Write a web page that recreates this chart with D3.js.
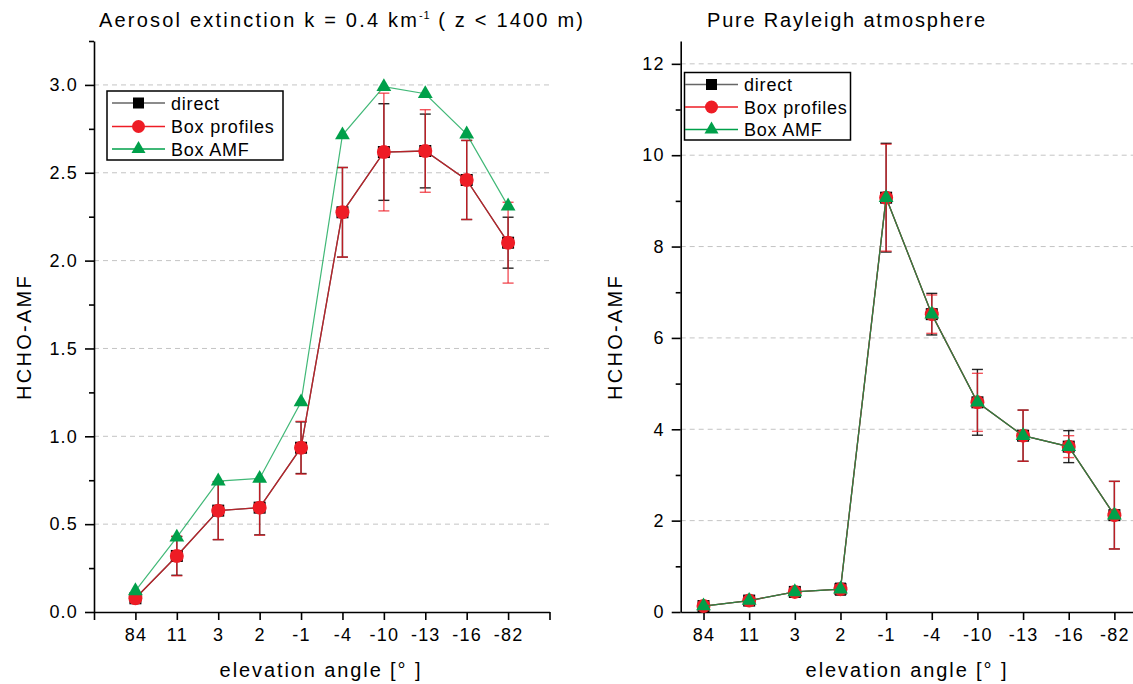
<!DOCTYPE html>
<html>
<head>
<meta charset="utf-8">
<script src="https://cdn.jsdelivr.net/npm/d3@7"></script>
<style>
  body { margin: 0; background: #fff; }
  svg { display: block; font-family: "Liberation Sans", Arial, Helvetica, sans-serif; }
</style>
</head>
<body>
<svg id="chart" width="1133" height="684"></svg>
<script>
// Elevation angles (x categories), shared by both panels
const categories = ["84", "11", "3", "2", "-1", "-4", "-10", "-13", "-16", "-82"];

// Left panel: aerosol extinction case
const aerosolDirect    = [0.078, 0.319, 0.577, 0.594, 0.935, 2.275, 2.618, 2.624, 2.459, 2.102];
const aerosolProfiles  = [0.078, 0.319, 0.577, 0.594, 0.935, 2.275, 2.618, 2.624, 2.459, 2.102];
const aerosolBoxAmf    = [0.12, 0.425, 0.745, 0.76, 1.195, 2.715, 2.99, 2.95, 2.72, 2.31];
const aerosolDirectErr   = [0.02, 0.11, 0.165, 0.155, 0.147, 0.255, 0.275, 0.21, 0.225, 0.145];
const aerosolProfilesErr = [0.02, 0.113, 0.165, 0.157, 0.15, 0.255, 0.335, 0.235, 0.225, 0.23];
const aerosolYTicks = [0, 0.5, 1.0, 1.5, 2.0, 2.5, 3.0];
const aerosolYMinor = [0.25, 0.75, 1.25, 1.75, 2.25, 2.75, 3.25];

// Right panel: pure Rayleigh atmosphere
const rayleighDirect    = [0.13, 0.25, 0.44, 0.50, 9.07, 6.52, 4.59, 3.86, 3.62, 2.12];
const rayleighProfiles  = [0.13, 0.25, 0.44, 0.50, 9.07, 6.52, 4.59, 3.86, 3.62, 2.12];
const rayleighBoxAmf    = [0.13, 0.25, 0.44, 0.50, 9.07, 6.52, 4.59, 3.86, 3.62, 2.12];
const rayleighDirectErr   = [0.05, 0.06, 0.08, 0.13, 1.19, 0.455, 0.72, 0.56, 0.35, 0.74];
const rayleighProfilesErr = [0.05, 0.06, 0.08, 0.10, 1.17, 0.42, 0.635, 0.56, 0.24, 0.74];
const rayleighYTicks = [0, 2, 4, 6, 8, 10, 12];
const rayleighYMinor = [1, 3, 5, 7, 9, 11];

const seriesNames = ["direct", "Box profiles", "Box AMF"];

const COL_BLACK = "#000000";
const COL_RED = "#ee1c25";
const COL_GREEN = "#00a04a";

const svg = d3.select("#chart");

const panels = [
  {
    xDomain: [0, 11], xRange: [94, 549.5], xTicks: d3.range(0, 12),
    yDomain: [0, 3.25], yRange: [612, 41],
    yTicks: aerosolYTicks, yMinor: aerosolYMinor, yFormat: d3.format(".1f"),
    direct: aerosolDirect, profiles: aerosolProfiles, amf: aerosolBoxAmf,
    directErr: aerosolDirectErr, profilesErr: aerosolProfilesErr,
    title: "aerosol", titleX: 99, titleSpacing: 2.2,
    yTitleX: 31, xTitleX: 321,
    legend: { x: 107, y: 91, w: 176, h: 69, lineX0: 112, lineX1: 165, textX: 171, rows: [103, 126.5, 149] }
  },
  {
    xDomain: [0.5, 10.5], xRange: [680.7, 1137.2], xTicks: d3.range(1, 11),
    yDomain: [0, 12.5], yRange: [612, 41],
    yTicks: rayleighYTicks, yMinor: rayleighYMinor, yFormat: d3.format("d"),
    direct: rayleighDirect, profiles: rayleighProfiles, amf: rayleighBoxAmf,
    directErr: rayleighDirectErr, profilesErr: rayleighProfilesErr,
    title: "Pure Rayleigh atmosphere", titleX: 707, titleSpacing: 1.8,
    yTitleX: 622, xTitleX: 907,
    legend: { x: 684.5, y: 72.5, w: 166, h: 67.5, lineX0: 685, lineX1: 738, textX: 744, rows: [84.5, 107, 129.5] }
  }
];

panels.forEach(p => {
  const x = d3.scaleLinear().domain(p.xDomain).range(p.xRange);
  const y = d3.scaleLinear().domain(p.yDomain).range(p.yRange);
  const g = svg.append("g");

  // dashed horizontal grid at major ticks
  g.append("g").selectAll("line")
    .data(p.yTicks.filter(v => v > 0))
    .join("line")
    .attr("x1", p.xRange[0]).attr("x2", p.xRange[1])
    .attr("y1", d => y(d)).attr("y2", d => y(d))
    .attr("stroke", "#c4c4c4").attr("stroke-width", 1)
    .attr("stroke-dasharray", "5,4");

  // y axis: minor ticks, then labelled major ticks
  g.append("g")
    .attr("transform", `translate(${p.xRange[0]},0)`)
    .call(d3.axisLeft(y).tickValues(p.yMinor).tickSize(5).tickSizeOuter(0).tickFormat(""))
    .call(a => a.select(".domain").remove())
    .call(a => a.selectAll("line").attr("stroke-width", 1.6));

  const yAxis = g.append("g")
    .attr("transform", `translate(${p.xRange[0]},0)`)
    .call(d3.axisLeft(y).tickValues(p.yTicks).tickSize(9).tickSizeOuter(0).tickPadding(7).tickFormat(p.yFormat));
  yAxis.select(".domain").attr("stroke-width", 1.6);
  yAxis.selectAll("line").attr("stroke-width", 1.6);
  yAxis.selectAll("text").attr("font-size", 18).attr("letter-spacing", 1.2)
    .attr("font-family", "Liberation Sans, Arial, sans-serif").attr("fill", "#000");

  // x axis with category labels
  const xAxis = g.append("g")
    .attr("transform", `translate(0,${p.yRange[0]})`)
    .call(d3.axisBottom(x).tickValues(p.xTicks).tickSize(8).tickSizeOuter(0).tickPadding(8)
      .tickFormat(i => (i >= 1 && i <= categories.length) ? categories[i - 1] : ""));
  xAxis.select(".domain").attr("stroke-width", 1.6);
  xAxis.selectAll("line").attr("stroke-width", 1.6);
  xAxis.selectAll("text").attr("font-size", 18).attr("letter-spacing", 1.2)
    .attr("font-family", "Liberation Sans, Arial, sans-serif").attr("fill", "#000");

  // axis titles
  g.append("text")
    .attr("transform", `translate(${p.yTitleX},337) rotate(-90)`)
    .attr("text-anchor", "middle").attr("font-size", 20).attr("letter-spacing", 2.3)
    .text("HCHO-AMF");
  g.append("text")
    .attr("x", p.xTitleX).attr("y", 677)
    .attr("text-anchor", "middle").attr("font-size", 20).attr("letter-spacing", 1.9)
    .text("elevation angle [° ]");

  // panel title
  const t = g.append("text").attr("x", p.titleX).attr("y", 27)
    .attr("font-size", 20).attr("letter-spacing", p.titleSpacing);
  if (p.title === "aerosol") {
    t.append("tspan").text("Aerosol extinction k = 0.4 km");
    t.append("tspan").attr("dy", -8).attr("font-size", 11).attr("letter-spacing", 0.8).text("-1");
    t.append("tspan").attr("dy", 8).text(" ( z < 1400 m)");
  } else {
    t.text(p.title);
  }

  const line = d3.line().x((d, i) => x(i + 1)).y(d => y(d));
  const idx = d3.range(categories.length);

  function errorBars(values, errs, color, opacity) {
    const eg = g.append("g").attr("stroke", color).attr("stroke-width", 1.4).attr("stroke-opacity", opacity);
    idx.forEach(i => {
      const cx = x(i + 1), top = y(values[i] + errs[i]), bot = y(values[i] - errs[i]);
      eg.append("line").attr("x1", cx).attr("x2", cx).attr("y1", top).attr("y2", bot);
      eg.append("line").attr("x1", cx - 5.5).attr("x2", cx + 5.5).attr("y1", top).attr("y2", top);
      eg.append("line").attr("x1", cx - 5.5).attr("x2", cx + 5.5).attr("y1", bot).attr("y2", bot);
    });
  }

  // direct: black line, error bars, squares
  g.append("path").datum(p.direct).attr("d", line)
    .attr("fill", "none").attr("stroke", "#333").attr("stroke-width", 1.3);
  errorBars(p.direct, p.directErr, COL_BLACK, 0.85);
  g.append("g").selectAll("rect").data(idx).join("rect")
    .attr("x", i => x(i + 1) - 6).attr("y", i => y(p.direct[i]) - 6)
    .attr("width", 12).attr("height", 12).attr("fill", COL_BLACK);

  // box profiles: red line, error bars, circles
  g.append("path").datum(p.profiles).attr("d", line)
    .attr("fill", "none").attr("stroke", COL_RED).attr("stroke-opacity", 0.7).attr("stroke-width", 1.3);
  errorBars(p.profiles, p.profilesErr, COL_RED, 0.75);
  g.append("g").selectAll("circle").data(idx).join("circle")
    .attr("cx", i => x(i + 1)).attr("cy", i => y(p.profiles[i]))
    .attr("r", 7).attr("fill", COL_RED);

  // box AMF: green line and triangles
  g.append("path").datum(p.amf).attr("d", line)
    .attr("fill", "none").attr("stroke", COL_GREEN).attr("stroke-opacity", 0.75).attr("stroke-width", 1.2);
  g.append("g").selectAll("path").data(idx).join("path")
    .attr("transform", i => `translate(${x(i + 1)},${y(p.amf[i])})`)
    .attr("d", d3.symbol(d3.symbolTriangle, 95)())
    .attr("fill", COL_GREEN);

  // legend
  const L = p.legend;
  const lg = g.append("g");
  lg.append("rect").attr("x", L.x).attr("y", L.y).attr("width", L.w).attr("height", L.h)
    .attr("fill", "#fff").attr("stroke", "#000").attr("stroke-width", 1.5);
  const lineCols = ["#666", COL_RED, COL_GREEN];
  seriesNames.forEach((name, k) => {
    const ry = L.rows[k];
    const mx = (L.lineX0 + L.lineX1) / 2;
    lg.append("line").attr("x1", L.lineX0).attr("x2", L.lineX1).attr("y1", ry).attr("y2", ry)
      .attr("stroke", lineCols[k]).attr("stroke-width", 1.3);
    if (k === 0) {
      lg.append("rect").attr("x", mx - 5.5).attr("y", ry - 5.5).attr("width", 11).attr("height", 11).attr("fill", COL_BLACK);
    } else if (k === 1) {
      lg.append("circle").attr("cx", mx).attr("cy", ry).attr("r", 6.5).attr("fill", COL_RED);
    } else {
      lg.append("path").attr("transform", `translate(${mx},${ry})`)
        .attr("d", d3.symbol(d3.symbolTriangle, 85)()).attr("fill", COL_GREEN);
    }
    lg.append("text").attr("x", L.textX).attr("y", ry + 6.5)
      .attr("font-size", 18).attr("letter-spacing", 0.8).text(name);
  });
});
</script>
</body>
</html>
